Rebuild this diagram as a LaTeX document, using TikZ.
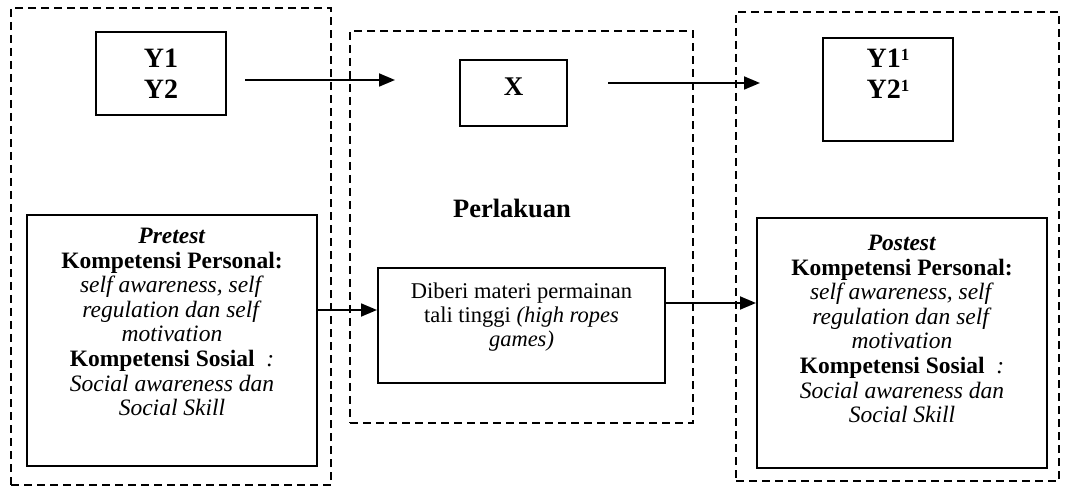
\documentclass[tikz,border=0pt]{standalone}
\usepackage{fontspec}
\setmainfont{Liberation Serif}
\usetikzlibrary{arrows.meta}

\newcommand{\onesup}{\raisebox{7pt}{\fontsize{17}{17}\selectfont 1}}

\tikzset{
	dashbox/.style = {draw, line width = 2pt, dash pattern = on 8pt off 5pt},
	solidbox/.style = {draw, line width = 2pt},
	bigtxt/.style = {inner sep = 0pt, align = center, font = \fontsize{28}{31}\selectfont\bfseries},
	smalltxt/.style = {inner sep = 0pt, align = center, font = \fontsize{23.5}{24.6}\selectfont},
	arr/.style = {->, line width = 1.8pt}
}

\begin{document}
\begin{tikzpicture}[x = 1pt, y = -1pt, > = {Triangle[length = 16pt, width = 13pt]}]

	\useasboundingbox (0, 0) rectangle (1066, 489);

	% Dashed groups
	
	\node [dashbox, minimum width = 320pt, minimum height = 477pt] (pregroup) at (171, 246.5) {};
	\node [dashbox, minimum width = 343pt, minimum height = 392pt] (treatgroup) at (521.5, 227) {};
	\node [dashbox, minimum width = 323pt, minimum height = 469pt] (postgroup) at (897.5, 246.5) {};

	% Variables
	
	\node [solidbox, minimum width = 130pt, minimum height = 83pt] (ypre) at (161, 73.5) {};
	\node [bigtxt] (ypretxt) at (161, 73.5) {Y1\\Y2};
	
	\node [solidbox, minimum width = 107pt, minimum height = 66pt] (x) at (513.5, 93) {};
	\node [bigtxt, font = \fontsize{27}{29}\selectfont\bfseries] (xtxt) at (513.5, 87) {X};
	
	\node [solidbox, minimum width = 130pt, minimum height = 103pt] (ypost) at (888, 89.5) {};
	\node [bigtxt] (yposttxt) at (888, 74) {Y1\onesup\\Y2\onesup};

	\node [inner sep = 0pt, font = \fontsize{26.5}{29}\selectfont\bfseries] (treat) at (512, 208) {Perlakuan};

	% Tests + treatment
	
	\node [solidbox, minimum width = 290pt, minimum height = 251pt] (pretest) at (172, 340.5) {};
	\node [smalltxt, anchor = north] (pretesttxt) at ([yshift = -14pt] pretest.north) {%
		\textbf{\textit{Pretest}}\\
		\textbf{Kompetensi Personal:}\\
		\textit{self awareness, self}\\
		\textit{regulation dan self}\\
		\textit{motivation}\\
		\textbf{Kompetensi Sosial}\ \ \textit{:}\\
		\textit{Social awareness dan}\\
		\textit{Social Skill}};
	
	\node [solidbox, minimum width = 287pt, minimum height = 115pt] (game) at (521.5, 325.5) {};
	\node [smalltxt, font = \fontsize{22.5}{24}\selectfont] (gametxt) at (521.5, 317) {%
		Diberi materi permainan\\
		tali tinggi \textit{(high ropes}\\
		\textit{games)}};
	
	\node [solidbox, minimum width = 290pt, minimum height = 250pt] (postest) at (902, 343) {};
	\node [smalltxt, anchor = north] (postesttxt) at ([yshift = -18pt] postest.north) {%
		\textbf{\textit{Postest}}\\
		\textbf{Kompetensi Personal:}\\
		\textit{self awareness, self}\\
		\textit{regulation dan self}\\
		\textit{motivation}\\
		\textbf{Kompetensi Sosial}\ \ \textit{:}\\
		\textit{Social awareness dan}\\
		\textit{Social Skill}};

	% Arrows
	
	\coordinate (toprow1) at (245, 80);
	\coordinate (toprow2) at (395, 80);
	\coordinate (toprow3) at (608, 83);
	\coordinate (toprow4) at (760, 83);
	\coordinate (lowrow1) at (0, 310);
	\coordinate (lowrow2) at (0, 303);
	
	\draw [arr] (toprow1) -- (toprow2);
	\draw [arr] (toprow3) -- (toprow4);
	\draw [arr] (pretest.east |- lowrow1) -- (game.west |- lowrow1);
	\draw [arr] (game.east |- lowrow2) -- (postest.west |- lowrow2);

\end{tikzpicture}
\end{document}
